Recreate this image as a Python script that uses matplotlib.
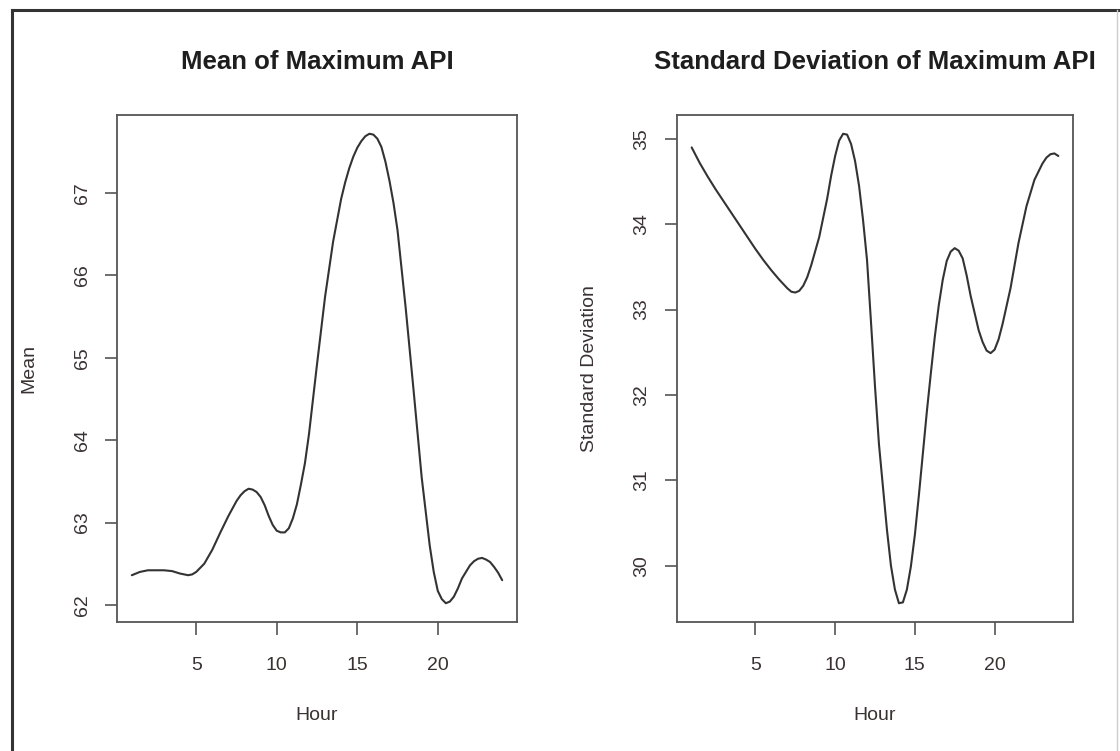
import matplotlib
matplotlib.use("Agg")
import matplotlib.pyplot as plt
from matplotlib.lines import Line2D

plt.rcParams['font.family'] = ['Liberation Sans', 'DejaVu Sans']

# Values (denser where the curve bends sharply)
mean_hours = [1.0, 1.5, 2.0, 2.5, 3.0, 3.5, 4.0, 4.25, 4.5, 4.75, 5.0, 5.5,
              6.0, 6.5, 7.0, 7.5, 7.75, 8.0, 8.25, 8.5, 8.75, 9.0, 9.25, 9.5,
              9.75, 10.0, 10.25, 10.5, 10.75, 11.0, 11.25, 11.5, 11.75, 12.0,
              12.5, 13.0, 13.5, 14.0, 14.25, 14.5, 14.75, 15.0, 15.25, 15.5,
              15.75, 16.0, 16.25, 16.5, 16.75, 17.0, 17.25, 17.5, 18.0, 18.5,
              19.0, 19.5, 19.75, 20.0, 20.25, 20.5, 20.75, 21.0, 21.25, 21.5,
              22.0, 22.25, 22.5, 22.75, 23.0, 23.25, 23.5, 23.75, 24.0]
mean_api = [62.36, 62.40, 62.42, 62.42, 62.42, 62.41, 62.38, 62.37, 62.36,
            62.37, 62.40, 62.50, 62.67, 62.88, 63.08, 63.26, 63.33, 63.38,
            63.41, 63.40, 63.37, 63.31, 63.21, 63.08, 62.97, 62.90, 62.88,
            62.88, 62.93, 63.05, 63.22, 63.46, 63.72, 64.07, 64.92, 65.74,
            66.41, 66.93, 67.13, 67.30, 67.44, 67.55, 67.63, 67.69, 67.72,
            67.71, 67.66, 67.56, 67.38, 67.15, 66.88, 66.55, 65.62, 64.60,
            63.55, 62.72, 62.40, 62.17, 62.07, 62.02, 62.04, 62.10, 62.20,
            62.32, 62.48, 62.53, 62.56, 62.57, 62.55, 62.52, 62.46, 62.39,
            62.30]

sd_hours = [1.0, 1.5, 2.0, 2.5, 3.0, 3.5, 4.0, 4.5, 5.0, 5.5, 6.0, 6.5, 7.0,
            7.25, 7.5, 7.75, 8.0, 8.25, 8.5, 9.0, 9.5, 9.75, 10.0, 10.25,
            10.5, 10.75, 11.0, 11.25, 11.5, 11.75, 12.0, 12.25, 12.5, 12.75,
            13.0, 13.25, 13.5, 13.75, 14.0, 14.25, 14.5, 14.75, 15.0, 15.25,
            15.5, 15.75, 16.0, 16.25, 16.5, 16.75, 17.0, 17.25, 17.5, 17.75,
            18.0, 18.25, 18.5, 19.0, 19.25, 19.5, 19.75, 20.0, 20.25, 20.5,
            21.0, 21.5, 22.0, 22.5, 23.0, 23.25, 23.5, 23.75, 24.0]
sd_api = [34.90, 34.72, 34.56, 34.41, 34.27, 34.13, 33.99, 33.85, 33.71,
          33.58, 33.46, 33.35, 33.25, 33.21, 33.20, 33.22, 33.28, 33.38,
          33.52, 33.85, 34.30, 34.57, 34.80, 34.98, 35.06, 35.05, 34.94,
          34.74, 34.45, 34.05, 33.58, 32.85, 32.10, 31.42, 30.92, 30.42,
          30.00, 29.72, 29.56, 29.57, 29.72, 29.99, 30.36, 30.82, 31.31,
          31.80, 32.25, 32.68, 33.05, 33.35, 33.57, 33.68, 33.72, 33.69,
          33.60, 33.40, 33.16, 32.76, 32.62, 32.52, 32.49, 32.53, 32.65,
          32.83, 33.25, 33.78, 34.21, 34.52, 34.71, 34.78, 34.82, 34.83,
          34.80]

x_ticks = [5, 10, 15, 20]
mean_yticks = [62, 63, 64, 65, 66, 67]
sd_yticks = [30, 31, 32, 33, 34, 35]

W, H = 1120, 751
fig = plt.figure(figsize=(W / 100, H / 100), dpi=100)
fig.patch.set_facecolor('white')

line_col = '#333333'
spine_col = '#555555'
text_col = '#3a3232'

def make_panel(rect_px, x, y, yticks, title, ylabel):
    l, t, r, b = rect_px
    ax = fig.add_axes([l / W, 1 - b / H, (r - l) / W, (b - t) / H])
    ax.plot(x, y, color=line_col, lw=1.5, solid_joinstyle='round',
            solid_capstyle='round')
    ax.margins(x=0.04, y=0.04)
    ax.set_xticks(x_ticks)
    ax.set_yticks(yticks)
    for s in ax.spines.values():
        s.set_color(spine_col)
        s.set_linewidth(1.3)
    ax.tick_params(axis='both', direction='out', length=9, width=1.2,
                   color=spine_col, labelsize=14, labelcolor=text_col)
    ax.tick_params(axis='x', pad=16)
    ax.tick_params(axis='y', pad=10, labelrotation=90)
    for lab in ax.get_yticklabels():
        lab.set_va('center')
    ax.set_title(title, fontsize=18.5, fontweight='bold', color='#1e1e1e',
                 y=1 + 53 / (b - t), va='center', pad=0)
    ax.set_xlabel('Hour', fontsize=14, color=text_col, va='center')
    ax.xaxis.set_label_coords(0.5, -93 / (b - t))
    ax.set_ylabel(ylabel, fontsize=14, color=text_col, va='center')
    ax.yaxis.set_label_coords(-88 / (r - l), 0.5)
    return ax

make_panel((117, 115, 517, 622), mean_hours, mean_api, mean_yticks,
           'Mean of Maximum API', 'Mean')
make_panel((677, 115, 1073, 622), sd_hours, sd_api, sd_yticks,
           'Standard Deviation of Maximum API', 'Standard Deviation')

# scanned page frame
fig.add_artist(Line2D([12 / W, 1], [1 - 10 / H, 1 - 10 / H],
                      transform=fig.transFigure, color='#333333', lw=2.2))
fig.add_artist(Line2D([12 / W, 12 / W], [0, 1 - 10 / H],
                      transform=fig.transFigure, color='#333333', lw=2.2))
fig.add_artist(Line2D([1117 / W, 1117 / W], [0, 1 - 10 / H],
                      transform=fig.transFigure, color='#cccccc', lw=1.0))

fig.savefig('out.png', dpi=100, facecolor='white')
